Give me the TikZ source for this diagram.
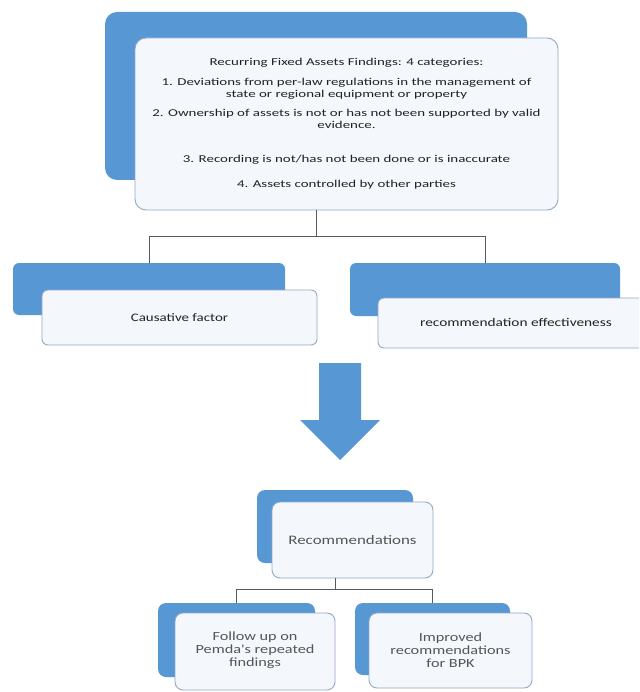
\documentclass[tikz,border=0pt]{standalone}
\usepackage{fontspec}
\newfontfamily\diag[FakeStretch=1.3]{Carlito}
\newfontfamily\diagwide[FakeStretch=1.42]{Carlito}
\definecolor{boxblue}{HTML}{5797D3}
\definecolor{frontfill}{HTML}{F4F7FB}
\definecolor{frontedge}{HTML}{93A9C6}
\definecolor{connc}{HTML}{5A5A5A}
\definecolor{darktext}{HTML}{222222}
\definecolor{greytext}{HTML}{555555}
\tikzset{
  backbox/.style={fill=boxblue, rounded corners=#1, inner sep=0pt, draw=none},
  backbox/.default=6pt,
  frontbox/.style={fill=frontfill, draw=frontedge, line width=0.9pt, rounded corners=#1, inner sep=0pt},
  frontbox/.default=6pt,
  conn/.style={draw=connc, line width=0.9pt},
  txt/.style={font=\diag, text=darktext, align=center, inner sep=0pt},
  toptxt/.style={txt, font=\diagwide\fontsize{10.5}{12}\selectfont},
}
\begin{document}
\begin{tikzpicture}[x=1pt,y=-1pt]
\clip (0,0) rectangle (639,692);
\fill[white] (0,0) rectangle (639,692);
% junctions
\coordinate (j1) at (316,236);
\coordinate (j2) at (335,589);
% top
\node[backbox=12pt, minimum width=422pt, minimum height=168pt] (topback) at (316,96) {};
\node[frontbox=11pt, minimum width=423pt, minimum height=172pt] (topfront) at (346.5,124) {};
\node[toptxt] (title) at (346.5,63) {Recurring Fixed Assets Findings: 4 categories:};
\node[toptxt] (item1) at (346.5,89) {1. Deviations from per-law regulations in the management of\\state or regional equipment or property};
\node[toptxt] (item2) at (346.5,119) {2. Ownership of assets is not or has not been supported by valid\\evidence.};
\node[toptxt] (item3) at (346.5,160) {3. Recording is not/has not been done or is inaccurate};
\node[toptxt] (item4) at (346.5,185) {4. Assets controlled by other parties};
% middle
\node[backbox=6pt, minimum width=272pt, minimum height=52pt] (leftback) at (149,289) {};
\node[frontbox=6pt, minimum width=275pt, minimum height=55pt] (leftfront) at (179.5,317.5) {};
\node[txt, font=\diag\fontsize{11.5}{13}\selectfont] (cause) at (179.5,318) {Causative factor};
\node[backbox=6pt, minimum width=270pt, minimum height=53pt] (rightback) at (485,289.5) {};
\node[frontbox=6pt, minimum width=276pt, minimum height=50pt] (rightfront) at (516,323) {};
\node[txt, font=\diag\fontsize{11.8}{13}\selectfont] (effect) at (516,322) {recommendation effectiveness};
% connectors top
\draw[conn] (topback.center |- topfront.south) -- (j1);
\draw[conn] (j1) -| (leftback.north);
\draw[conn] (j1) -| (rightback.north);
% arrow
\fill[boxblue] (319,363) -- (361,363) -- (361,420) -- (380,420) -- (340,460) -- (300,420) -- (319,420) -- cycle;
% recommendations
\node[backbox=8pt, minimum width=156pt, minimum height=73pt] (recback) at (335,526.5) {};
\node[frontbox=8pt, minimum width=161pt, minimum height=76pt] (recfront) at (352.5,540) {};
\node[txt, text=greytext, font=\diag\fontsize{13}{14}\selectfont] (rec) at (352.5,540) {Recommendations};
% bottom
\node[backbox=8pt, minimum width=157pt, minimum height=74pt] (blback) at (236.5,640) {};
\node[frontbox=8pt, minimum width=160pt, minimum height=77pt] (blfront) at (255,651.5) {};
\node[txt, text=greytext, font=\diag\fontsize{12.5}{13}\selectfont] (follow) at (255,650.5) {Follow up on\\Pemda's repeated\\findings};
\node[backbox=8pt, minimum width=155pt, minimum height=72pt] (brback) at (432.5,639) {};
\node[frontbox=8pt, minimum width=163pt, minimum height=75pt] (brfront) at (450.5,650.5) {};
\node[txt, text=greytext, font=\diag\fontsize{12.5}{13}\selectfont] (improved) at (450.5,650) {Improved\\recommendations\\for BPK};
% connectors bottom
\draw[conn] (recback.center |- recfront.south) -- (j2);
\draw[conn] (j2) -| (blback.north);
\draw[conn] (j2) -| (brback.north);
\end{tikzpicture}
\end{document}
